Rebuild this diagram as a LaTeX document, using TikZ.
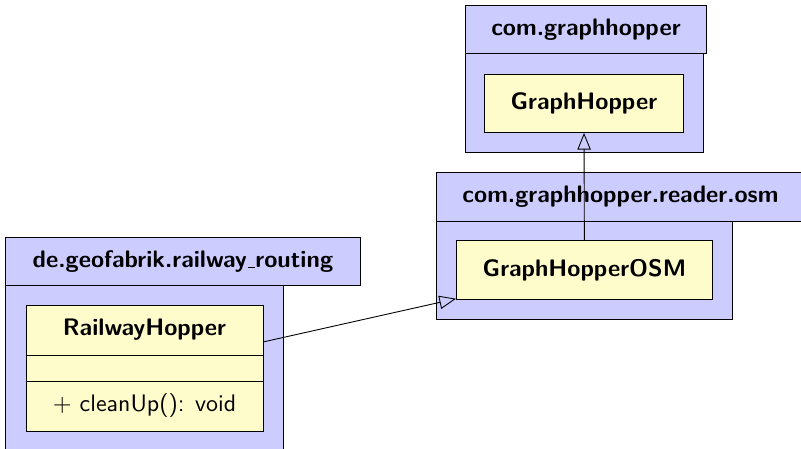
\documentclass[tikz,border=0pt]{standalone}
\usepackage{tikz}
\usetikzlibrary{arrows.meta}

\newcommand{\umlfont}{\sffamily\fontsize{10.75pt}{13pt}\selectfont}
\newcommand{\umlus}{\leavevmode\kern.06em\vbox{\hrule width.3em}}

\begin{document}
\begin{tikzpicture}[x=0.45pt,y=-0.45pt,
	pkg/.style={draw,fill=blue!20},
	pkgtab/.style={draw,fill=blue!20,inner sep=0pt,font=\umlfont\bfseries},
	cls/.style={draw,fill=yellow!20,inner sep=0pt,font=\umlfont\bfseries},
	inherit/.style={-{Triangle[open,length=7.5pt,width=6pt]}}]

	\useasboundingbox (0,0) rectangle (801,448);

	% packages
	\node[pkgtab,anchor=north west,minimum width=108.45pt,minimum height=21.6pt] (ghtab) at (465,5) {com.graphhopper};
	\draw[pkg] (ghtab.south west) rectangle (703,152);

	\node[pkgtab,anchor=north west,minimum width=165.6pt,minimum height=22.05pt,text width=165.6pt,align=left] (osmtab) at (436,172) {\hspace*{11.7pt}com.graphhopper.reader.osm};
	\draw[pkg] (osmtab.south west) rectangle (732,319);

	\node[pkgtab,anchor=north west,minimum width=159.75pt,minimum height=21.6pt] (rrtab) at (5,237) {de.geofabrik.railway\umlus routing};
	\draw[pkg] (rrtab.south west) rectangle (283,470);

	% classes
	\node[cls,anchor=north west,minimum width=89.55pt,minimum height=26.1pt] (gh) at (484,74) {GraphHopper};
	\node[cls,anchor=north west,minimum width=115.2pt,minimum height=26.55pt] (ghosm) at (456,240) {GraphHopperOSM};

	\node[cls,anchor=north west,minimum width=106.65pt,minimum height=56.7pt] (rh) at (26,305) {};
	\node[font=\umlfont\bfseries] (rhname) at (144.5,330) {RailwayHopper};
	\draw (26,355) -- (263,355);
	\draw (26,381) -- (263,381);
	\node[font=\umlfont] (rhop) at (144.5,406) {$+$ cleanUp(): void};

	% inheritance
	\draw[inherit] (ghosm) -- (gh);
	\draw[inherit] (rh) -- (ghosm);

\end{tikzpicture}
\end{document}
